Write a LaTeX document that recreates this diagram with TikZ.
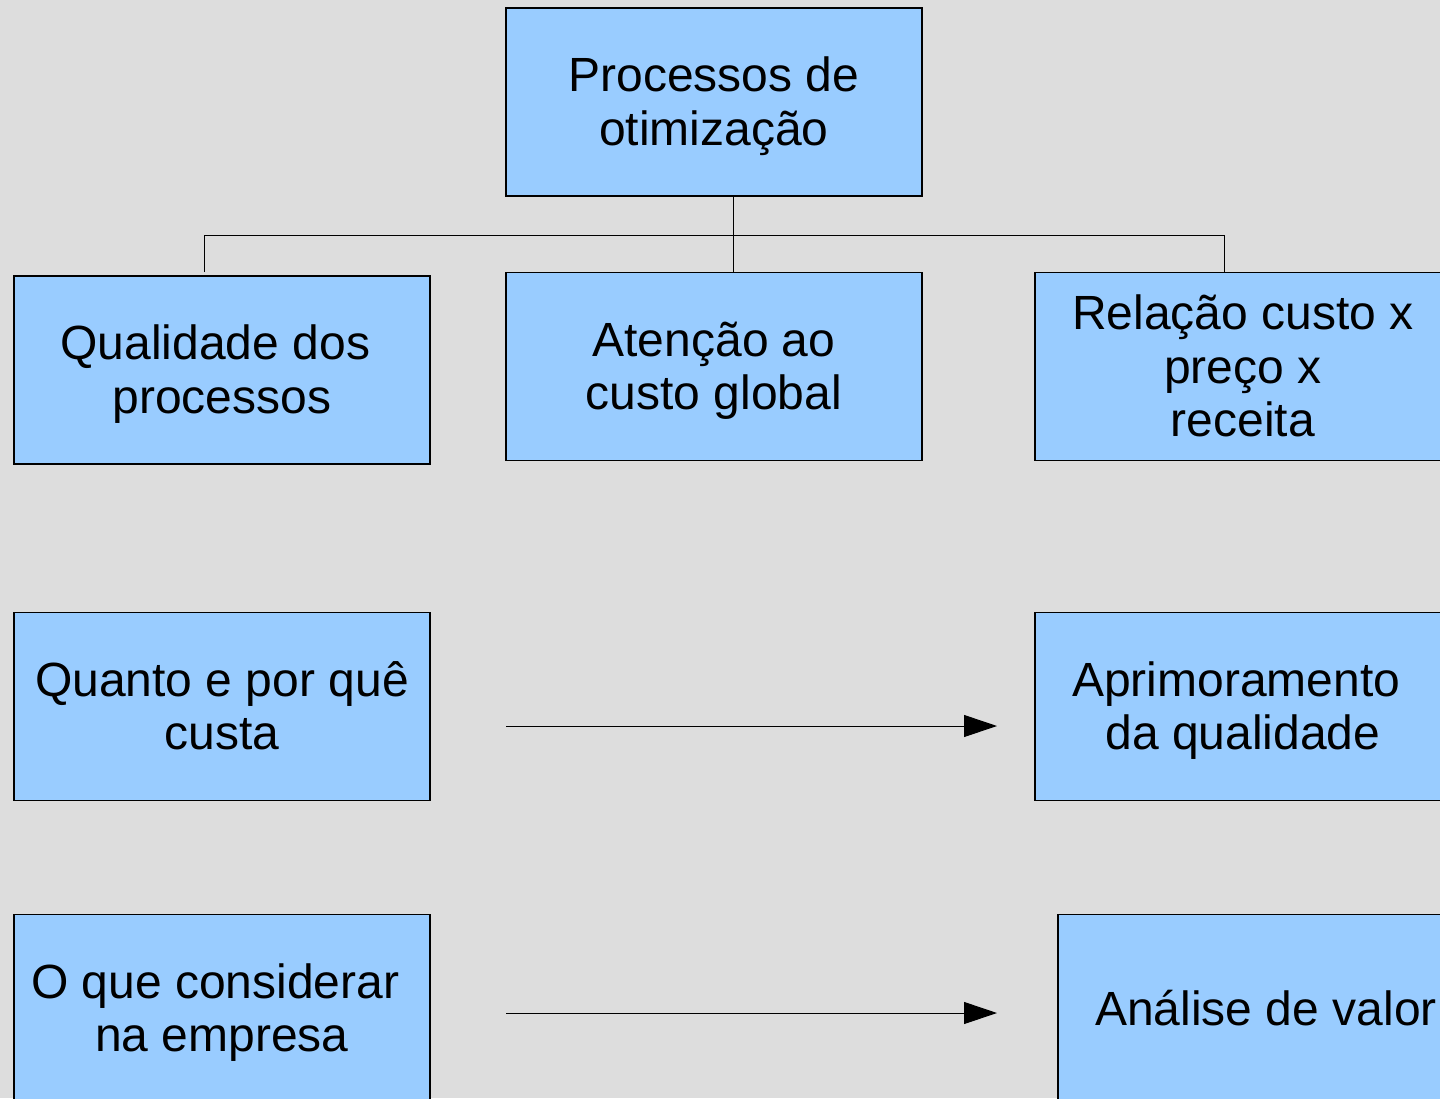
\documentclass[tikz,border=0pt]{standalone}
\usepackage{fontspec}
\setmainfont{Liberation Sans}
\usetikzlibrary{arrows.meta}
\definecolor{bgc}{HTML}{DDDDDD}
\definecolor{boxc}{HTML}{99CCFF}
\newcommand{\tsp}{\hspace*{0.278em}}
\newcommand{\ls}{\rule[-10.2pt]{0pt}{53.6pt}}
\tikzset{
  box/.style={draw=black, line width=1.1pt, fill=boxc, minimum width=416pt, minimum height=188pt,
    inner sep=0pt, align=center, font=\fontsize{48}{53.6}\selectfont},
  link/.style={draw=black, line width=1pt},
  arr/.style={draw=black, line width=1pt, -{Triangle[length=33pt,width=22pt]}}
}
\begin{document}
\begin{tikzpicture}[x=1pt,y=-1pt]
\path[use as bounding box, fill=bgc] (0,0) rectangle (1440,1098);
\clip (0,0) rectangle (1440,1098);
\node[box] (top) at (714,102) {\ls Processos de\\\ls otimização};
\node[box] (qual) at (222,370) {\ls Qualidade dos\tsp\\\ls processos};
\node[box] (aten) at (714,366.5) {\ls Atenção ao\\\ls custo global};
\node[box] (rel) at (1243,366.5) {\ls Relação custo x\\\ls preço x\\\ls receita};
\node[box] (quan) at (222,706.5) {\ls Quanto e por quê\\\ls custa};
\node[box] (apri) at (1243,706.5) {\ls Aprimoramento\tsp\\\ls da qualidade};
\node[box] (oque) at (222,1008.5) {\ls O que considerar\tsp\\\ls na empresa};
\node[box] (anal) at (1266,1008.5) {\ls Análise de valor};
% tree connectors
\coordinate (ta) at (733,196);
\coordinate (tb) at (733,235);
\coordinate (la) at (204,235);
\coordinate (lb) at (204,272);
\coordinate (ra) at (1224,235);
\coordinate (rb) at (1224,272);
\coordinate (mb) at (733,272);
\draw[link] (ta) -- (tb);
\draw[link] (lb) -- (la) -- (ra) -- (rb);
\draw[link] (tb) -- (mb);
% arrows
\coordinate (a1s) at (506,726);
\coordinate (a1e) at (997,726);
\coordinate (a2s) at (506,1013);
\coordinate (a2e) at (997,1013);
\draw[arr] (a1s) -- (a1e);
\draw[arr] (a2s) -- (a2e);
\end{tikzpicture}
\end{document}
